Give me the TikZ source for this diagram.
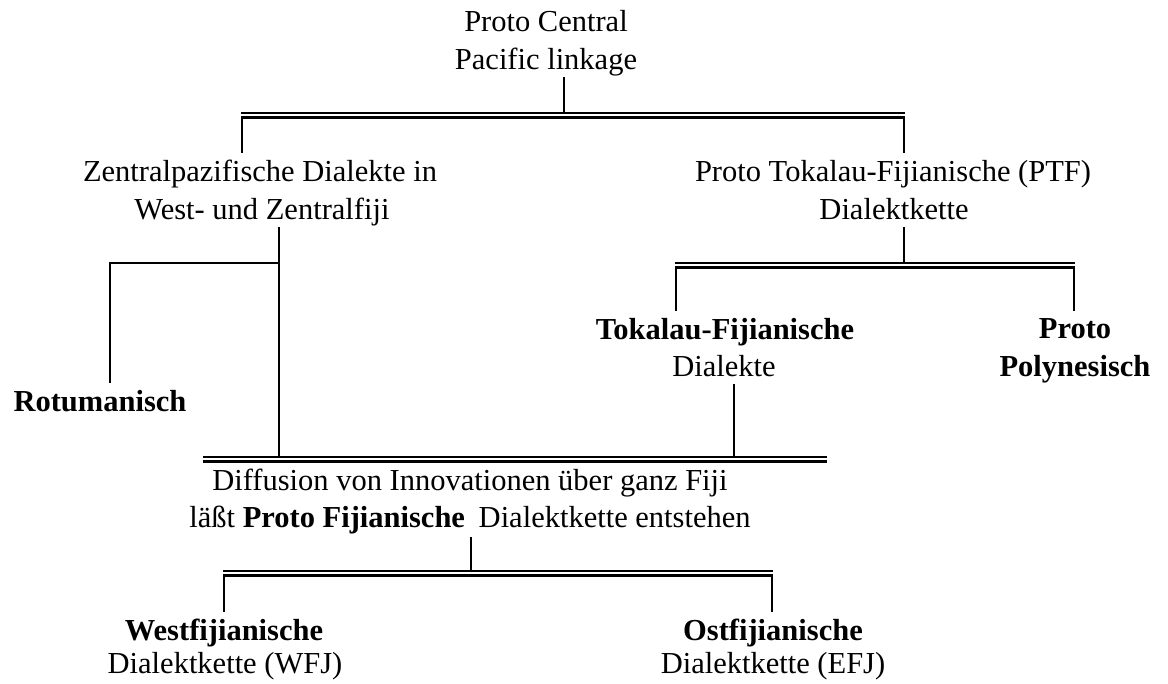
\documentclass[tikz,border=0pt]{standalone}
\usepackage{fontspec}
\setmainfont{Liberation Serif}
\begin{document}
\begin{tikzpicture}[x=1pt,y=-1pt,
  txt/.style={anchor=base, inner sep=0pt, font=\fontsize{30.5}{38}\selectfont},
  btxt/.style={anchor=base, inner sep=0pt, font=\fontsize{30.5}{38}\selectfont\bfseries},
  ln/.style={line width=2.2pt, line join=miter}]
\useasboundingbox (0,0) rectangle (1168,684);

% texts
\node[txt] (pc1) at (546,32) {Proto Central};
\node[txt] (pc2) at (546,70) {Pacific linkage};
\node[txt] (zd1) at (260,182) {Zentralpazifische Dialekte in};
\node[txt] (zd2) at (262,220) {West- und Zentralfiji};
\node[txt] (ptf1) at (893,182) {Proto Tokalau-Fijianische (PTF)};
\node[txt] (ptf2) at (894,220) {Dialektkette};
\node[btxt] (rot) at (100,412) {Rotumanisch};
\node[btxt] (tf1) at (725,340) {Tokalau-Fijianische};
\node[txt] (tf2) at (724,377) {Dialekte};
\node[btxt] (pp1) at (1075,339) {Proto};
\node[btxt] (pp2) at (1075,377) {Polynesisch};
\node[txt] (pf1) at (470,490) {Diffusion von Innovationen über ganz Fiji};
\node[txt] (pf2) at (470,528) {läßt \textbf{Proto Fijianische}\hspace{0.45em}Dialektkette entstehen};
\node[btxt] (wf1) at (224,640) {Westfijianische};
\node[txt] (wf2) at (225,673) {Dialektkette (WFJ)};
\node[btxt] (of1) at (773,640) {Ostfijianische};
\node[txt] (of2) at (773,673) {Dialektkette (EFJ)};

% junction coordinates
\coordinate (s0t) at (564,77);
\coordinate (s0b) at (564,113);
\coordinate (a1L) at (241,113);
\coordinate (a1R) at (905,113);
\coordinate (a2L) at (242,117.5);
\coordinate (a2R) at (904,117.5);
\coordinate (a2Lb) at (242,153);
\coordinate (a2Rb) at (904,153);

\coordinate (s1t) at (904,227);
\coordinate (s1b) at (904,263);
\coordinate (b1L) at (675,263);
\coordinate (b1R) at (1075,263);
\coordinate (b2L) at (676,267.5);
\coordinate (b2R) at (1074,267.5);
\coordinate (b2Lb) at (676,311);
\coordinate (b2Rb) at (1074,311);

\coordinate (s2t) at (279,227);
\coordinate (s2m) at (279,263);
\coordinate (s2b) at (279,457);
\coordinate (r1) at (110,263);
\coordinate (r1b) at (110,383);

\coordinate (s3t) at (734,384);
\coordinate (s3b) at (734,457);
\coordinate (c1L) at (203,457);
\coordinate (c1R) at (827,457);
\coordinate (c2L) at (203,461.5);
\coordinate (c2R) at (827,461.5);

\coordinate (s4t) at (471,537);
\coordinate (s4b) at (471,571);
\coordinate (d1L) at (223,571);
\coordinate (d1R) at (773,571);
\coordinate (d2L) at (224,575.5);
\coordinate (d2R) at (772,575.5);
\coordinate (d2Lb) at (224,612);
\coordinate (d2Rb) at (772,612);

% connectors
\draw[ln] (s0t) -- (s0b);
\draw[ln] (a1L) -- (a1R);
\draw[ln] (a2Lb) -- (a2L) -- (a2R) -- (a2Rb);

\draw[ln] (s1t) -- (s1b);
\draw[ln] (b1L) -- (b1R);
\draw[ln] (b2Lb) -- (b2L) -- (b2R) -- (b2Rb);

\draw[ln] (s2t) -- (s2b);
\draw[ln] (s2m) -- (r1) -- (r1b);

\draw[ln] (s3t) -- (s3b);
\draw[ln] (c1L) -- (c1R);
\draw[ln] (c2L) -- (c2R);

\draw[ln] (s4t) -- (s4b);
\draw[ln] (d1L) -- (d1R);
\draw[ln] (d2Lb) -- (d2L) -- (d2R) -- (d2Rb);
\end{tikzpicture}
\end{document}
